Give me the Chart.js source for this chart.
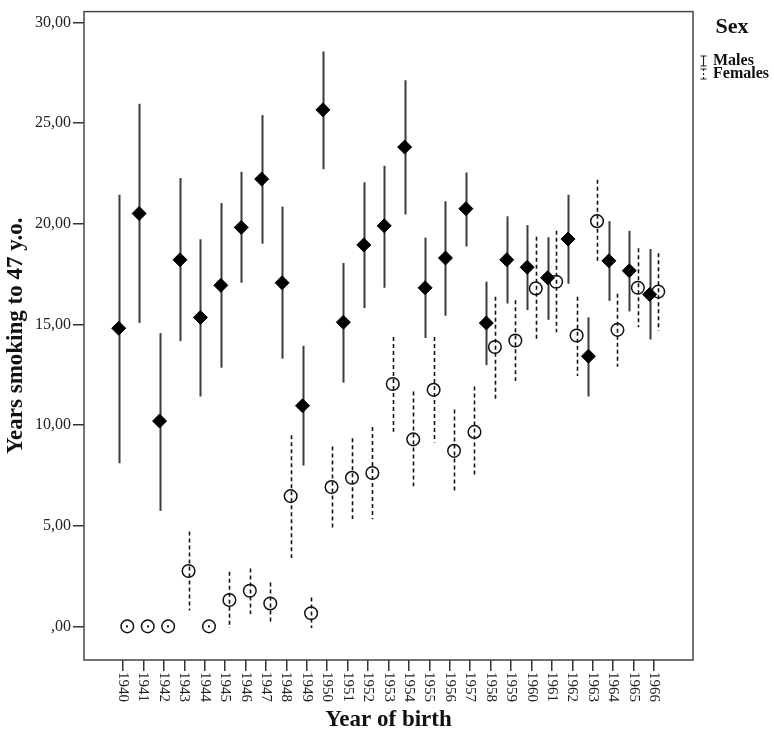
<!DOCTYPE html>
<html><head><meta charset="utf-8">
<script src="https://cdn.jsdelivr.net/npm/chart.js@4.4.0/dist/chart.umd.min.js"></script>
<style>html,body{margin:0;padding:0;background:#fff}#wrap{width:774px;height:736px;position:relative}</style>
</head><body><div id="wrap"><canvas id="c" width="774" height="736"></canvas></div>
<script>
const years = [1940,1941,1942,1943,1944,1945,1946,1947,1948,1949,1950,1951,1952,1953,1954,1955,1956,1957,1958,1959,1960,1961,1962,1963,1964,1965,1966];
const maleMean = [14.81,20.51,10.20,18.21,15.35,16.94,19.82,22.22,17.07,10.96,25.66,15.11,18.95,19.90,23.81,16.82,18.30,20.75,15.07,18.21,17.84,17.32,19.24,13.42,18.16,17.67,16.49];
const maleHigh = [21.44,25.96,14.57,22.27,19.23,21.03,22.58,25.40,20.85,13.94,28.56,18.05,22.06,22.88,27.13,19.31,21.12,22.55,17.12,20.37,19.93,19.33,21.44,15.35,20.13,19.65,18.75];
const maleLow = [8.10,15.07,5.74,14.17,11.42,12.85,17.07,19.01,13.30,7.99,22.71,12.11,15.81,16.82,20.46,14.33,15.43,18.87,12.98,16.04,15.71,15.23,17.02,11.42,16.17,15.65,14.25];
const femaleMean = [0,0,0,2.75,0,1.31,1.77,1.14,6.47,0.65,6.92,7.38,7.62,12.04,9.29,11.75,8.72,9.66,13.88,14.20,16.79,17.12,14.45,20.13,14.73,16.82,16.63];
const femaleHigh = [0,0,0,4.71,0,2.71,2.88,2.18,9.49,1.44,8.93,9.34,9.90,14.37,11.67,14.37,10.77,11.92,16.38,16.20,19.36,19.65,16.38,22.19,16.53,18.79,18.54];
const femaleLow = [0,0,0,0.79,0,-0.08,0.62,0.13,3.40,-0.08,4.91,5.34,5.32,9.67,6.96,9.13,6.71,7.45,11.31,12.19,14.29,14.61,12.44,18.05,12.90,14.86,14.69];
const yTicks = [0,5,10,15,20,25,30];
const seriesNames = ['Males','Females'];
const xTitle = 'Year of birth';
const yTitle = 'Years smoking to 47 y.o.';
const legendTitle = 'Sex';

const SERIF = '"Liberation Serif", "Times New Roman", serif';
const DODGE = 0.21;

function fmtY(v){ return v === 0 ? ',00' : v.toFixed(2).replace('.', ','); }

const errLows = [maleLow, femaleLow];
const errHighs = [maleHigh, femaleHigh];

const errorBarPlugin = {
  id: 'errorBars',
  beforeDatasetsDraw(chart){
    const ctx = chart.ctx, ys = chart.scales.y;
    chart.data.datasets.forEach((ds, di) => {
      const meta = chart.getDatasetMeta(di);
      meta.data.forEach((pt, i) => {
        const lo = errLows[di][i], hi = errHighs[di][i];
        const x = Math.round(pt.x) + 0.5;
        const y1 = ys.getPixelForValue(hi), y2 = ys.getPixelForValue(lo);
        ctx.save();
        if (di === 0) {
          ctx.strokeStyle = '#3a3a3a'; ctx.lineWidth = 2; ctx.setLineDash([]);
        } else {
          ctx.strokeStyle = '#111'; ctx.lineWidth = 1.6; ctx.setLineDash([4, 3]);
        }
        if (hi - lo < 0.05) {
          ctx.fillStyle = '#111';
          ctx.fillRect(x - 1.5, y1 - 1, 2, 2);
        } else {
          ctx.beginPath(); ctx.moveTo(x, y1); ctx.lineTo(x, y2); ctx.stroke();
        }
        ctx.restore();
      });
    });
  },
  afterDraw(chart){
    const ctx = chart.ctx, a = chart.chartArea, xs = chart.scales.x;
    ctx.save();
    ctx.strokeStyle = '#454545'; ctx.lineWidth = 1.5;
    ctx.strokeRect(a.left, a.top, a.right - a.left, a.bottom - a.top);
    ctx.fillStyle = '#222';
    ctx.font = '15px ' + SERIF;
    ctx.textAlign = 'left'; ctx.textBaseline = 'middle';
    years.forEach(yr => {
      const px = xs.getPixelForValue(yr);
      ctx.save();
      ctx.translate(px, a.bottom + 12);
      ctx.rotate(Math.PI / 2);
      ctx.fillText(String(yr), 0, 0);
      ctx.restore();
    });
    ctx.fillStyle = '#111';
    ctx.textAlign = 'center'; ctx.textBaseline = 'middle';
    ctx.font = 'bold 22px ' + SERIF;
    ctx.fillText(legendTitle, 732, 27);
    ctx.font = 'bold 16px ' + SERIF;
    ctx.textAlign = 'left';
    const rows = [61, 74];
    rows.forEach((ry, k) => {
      const sx = 703.5;
      ctx.strokeStyle = '#222'; ctx.lineWidth = 1.2;
      ctx.setLineDash(k === 0 ? [] : [2, 2]);
      ctx.beginPath(); ctx.moveTo(sx, ry - 5); ctx.lineTo(sx, ry + 5); ctx.stroke();
      ctx.setLineDash([]);
      ctx.beginPath();
      ctx.moveTo(sx - 3, ry - 5); ctx.lineTo(sx + 3, ry - 5);
      ctx.moveTo(sx - 3, ry + 5); ctx.lineTo(sx + 3, ry + 5);
      ctx.stroke();
      ctx.fillText(seriesNames[k], 713, ry);
    });
    ctx.restore();
  }
};

new Chart(document.getElementById('c'), {
  type: 'scatter',
  data: {
    datasets: [
      {
        label: seriesNames[0],
        data: years.map((yr, i) => ({ x: yr - DODGE, y: maleMean[i] })),
        pointStyle: 'rectRot', pointRadius: 7, pointHoverRadius: 7,
        backgroundColor: '#000', borderColor: '#000', borderWidth: 1
      },
      {
        label: seriesNames[1],
        data: years.map((yr, i) => ({ x: yr + DODGE, y: femaleMean[i] })),
        pointStyle: 'circle', pointRadius: 6.3, pointHoverRadius: 6.3,
        backgroundColor: 'rgba(255,255,255,0)', borderColor: '#111', borderWidth: 1.5
      }
    ]
  },
  options: {
    responsive: false, animation: false, devicePixelRatio: 1,
    layout: { padding: { top: 4, right: 81, bottom: 0, left: 0 } },
    plugins: { legend: { display: false }, tooltip: { enabled: false } },
    scales: {
      x: {
        type: 'linear', min: 1938.09, max: 1967.91,
        afterBuildTicks(s){ s.ticks = years.map(v => ({ value: v })); },
        afterFit(s){ s.height = 76; },
        grid: { display: true, drawOnChartArea: false, drawTicks: true, tickLength: 11, color: '#333', lineWidth: 1.5 },
        border: { display: false },
        ticks: { display: false },
        title: { display: true, text: xTitle, color: '#111', font: { family: SERIF, size: 23, weight: 'bold' }, padding: { top: 0, bottom: 2 } }
      },
      y: {
        type: 'linear', min: -1.67, max: 30.54,
        afterBuildTicks(s){ s.ticks = yTicks.map(v => ({ value: v })); },
        afterFit(s){ s.width = 84; },
        grid: { display: true, drawOnChartArea: false, drawTicks: true, tickLength: 11, color: '#333', lineWidth: 1.5 },
        border: { display: false },
        ticks: { color: '#222', padding: 2, font: { family: SERIF, size: 16 }, callback: v => fmtY(v) },
        title: { display: true, text: yTitle, color: '#111', font: { family: SERIF, size: 23, weight: 'bold' }, padding: { top: 2, bottom: 0 } }
      }
    }
  },
  plugins: [errorBarPlugin]
});
</script>
</body></html>
